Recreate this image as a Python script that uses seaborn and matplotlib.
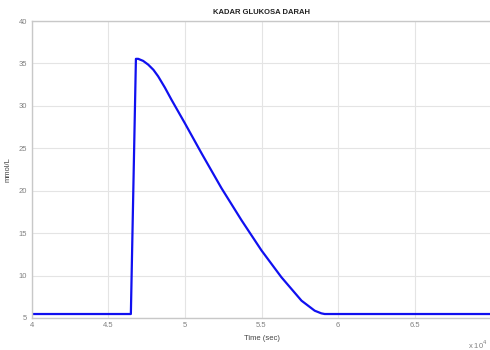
import matplotlib
matplotlib.use("Agg")
import matplotlib.pyplot as plt
import seaborn as sns
import pandas as pd

# Simulated blood glucose level over time (time axis scaled by 1e4)
time_sec = [4.00, 4.648, 4.681, 4.696, 4.728, 4.761, 4.795, 4.826, 4.870,
            4.913, 5.000, 5.109, 5.239, 5.370, 5.500, 5.630, 5.761, 5.847,
            5.890, 5.912, 6.30, 7.00]
glukosa = [5.47, 5.47, 35.54, 35.54, 35.30, 34.86, 34.25, 33.48, 32.15,
           30.72, 27.96, 24.41, 20.30, 16.51, 12.96, 9.80, 7.04, 5.86,
           5.55, 5.47, 5.47, 5.47]

x_ticks = [4, 4.5, 5, 5.5, 6, 6.5]
x_tick_labels = ["4", "4.5", "5", "5.5", "6", "6.5"]
y_ticks = [5, 10, 15, 20, 25, 30, 35, 40]
y_tick_labels = ["5", "10", "15", "20", "25", "30", "35", "40"]

df = pd.DataFrame({"Time (sec)": time_sec, "mmol/L": glukosa})

sns.set_style("white")
plt.rcParams["font.family"] = ["Arial", "Liberation Sans", "DejaVu Sans"]

fig = plt.figure(figsize=(4.9, 3.5), dpi=100)
ax = fig.add_axes([31.5 / 490, 1 - 318 / 350, 460 / 490, 297 / 350])

sns.lineplot(data=df, x="Time (sec)", y="mmol/L", ax=ax, color="#1010f0",
             linewidth=1.6, estimator=None, sort=False)

ax.set_xlim(4, 7)
ax.set_ylim(5, 40)
ax.set_xticks(x_ticks)
ax.set_xticklabels(x_tick_labels)
ax.set_yticks(y_ticks)
ax.set_yticklabels(y_tick_labels)

ax.grid(True, color="#e4e4e4", linewidth=0.8)
ax.tick_params(direction="in", length=3, width=0.6, colors="#9a9a9a",
               labelsize=5.5, labelcolor="#808080", pad=3)
for side in ["left", "bottom", "top"]:
    ax.spines[side].set_color("#c8c8c8")
    ax.spines[side].set_linewidth(1.0)
ax.spines["right"].set_visible(False)

ax.set_title("KADAR GLUKOSA DARAH", fontsize=5.5, fontweight="bold",
             color="#222222", pad=5)
ax.set_xlabel("Time (sec)", fontsize=5.5, color="#444444", labelpad=4)
ax.set_ylabel("mmol/L", fontsize=5.5, color="#444444", labelpad=5)

fig.text(488 / 490, 1 - 345 / 350, "x 10$^{4}$", fontsize=5.5,
         color="#808080", va="center", ha="right")

fig.savefig("out.png", dpi=100)
